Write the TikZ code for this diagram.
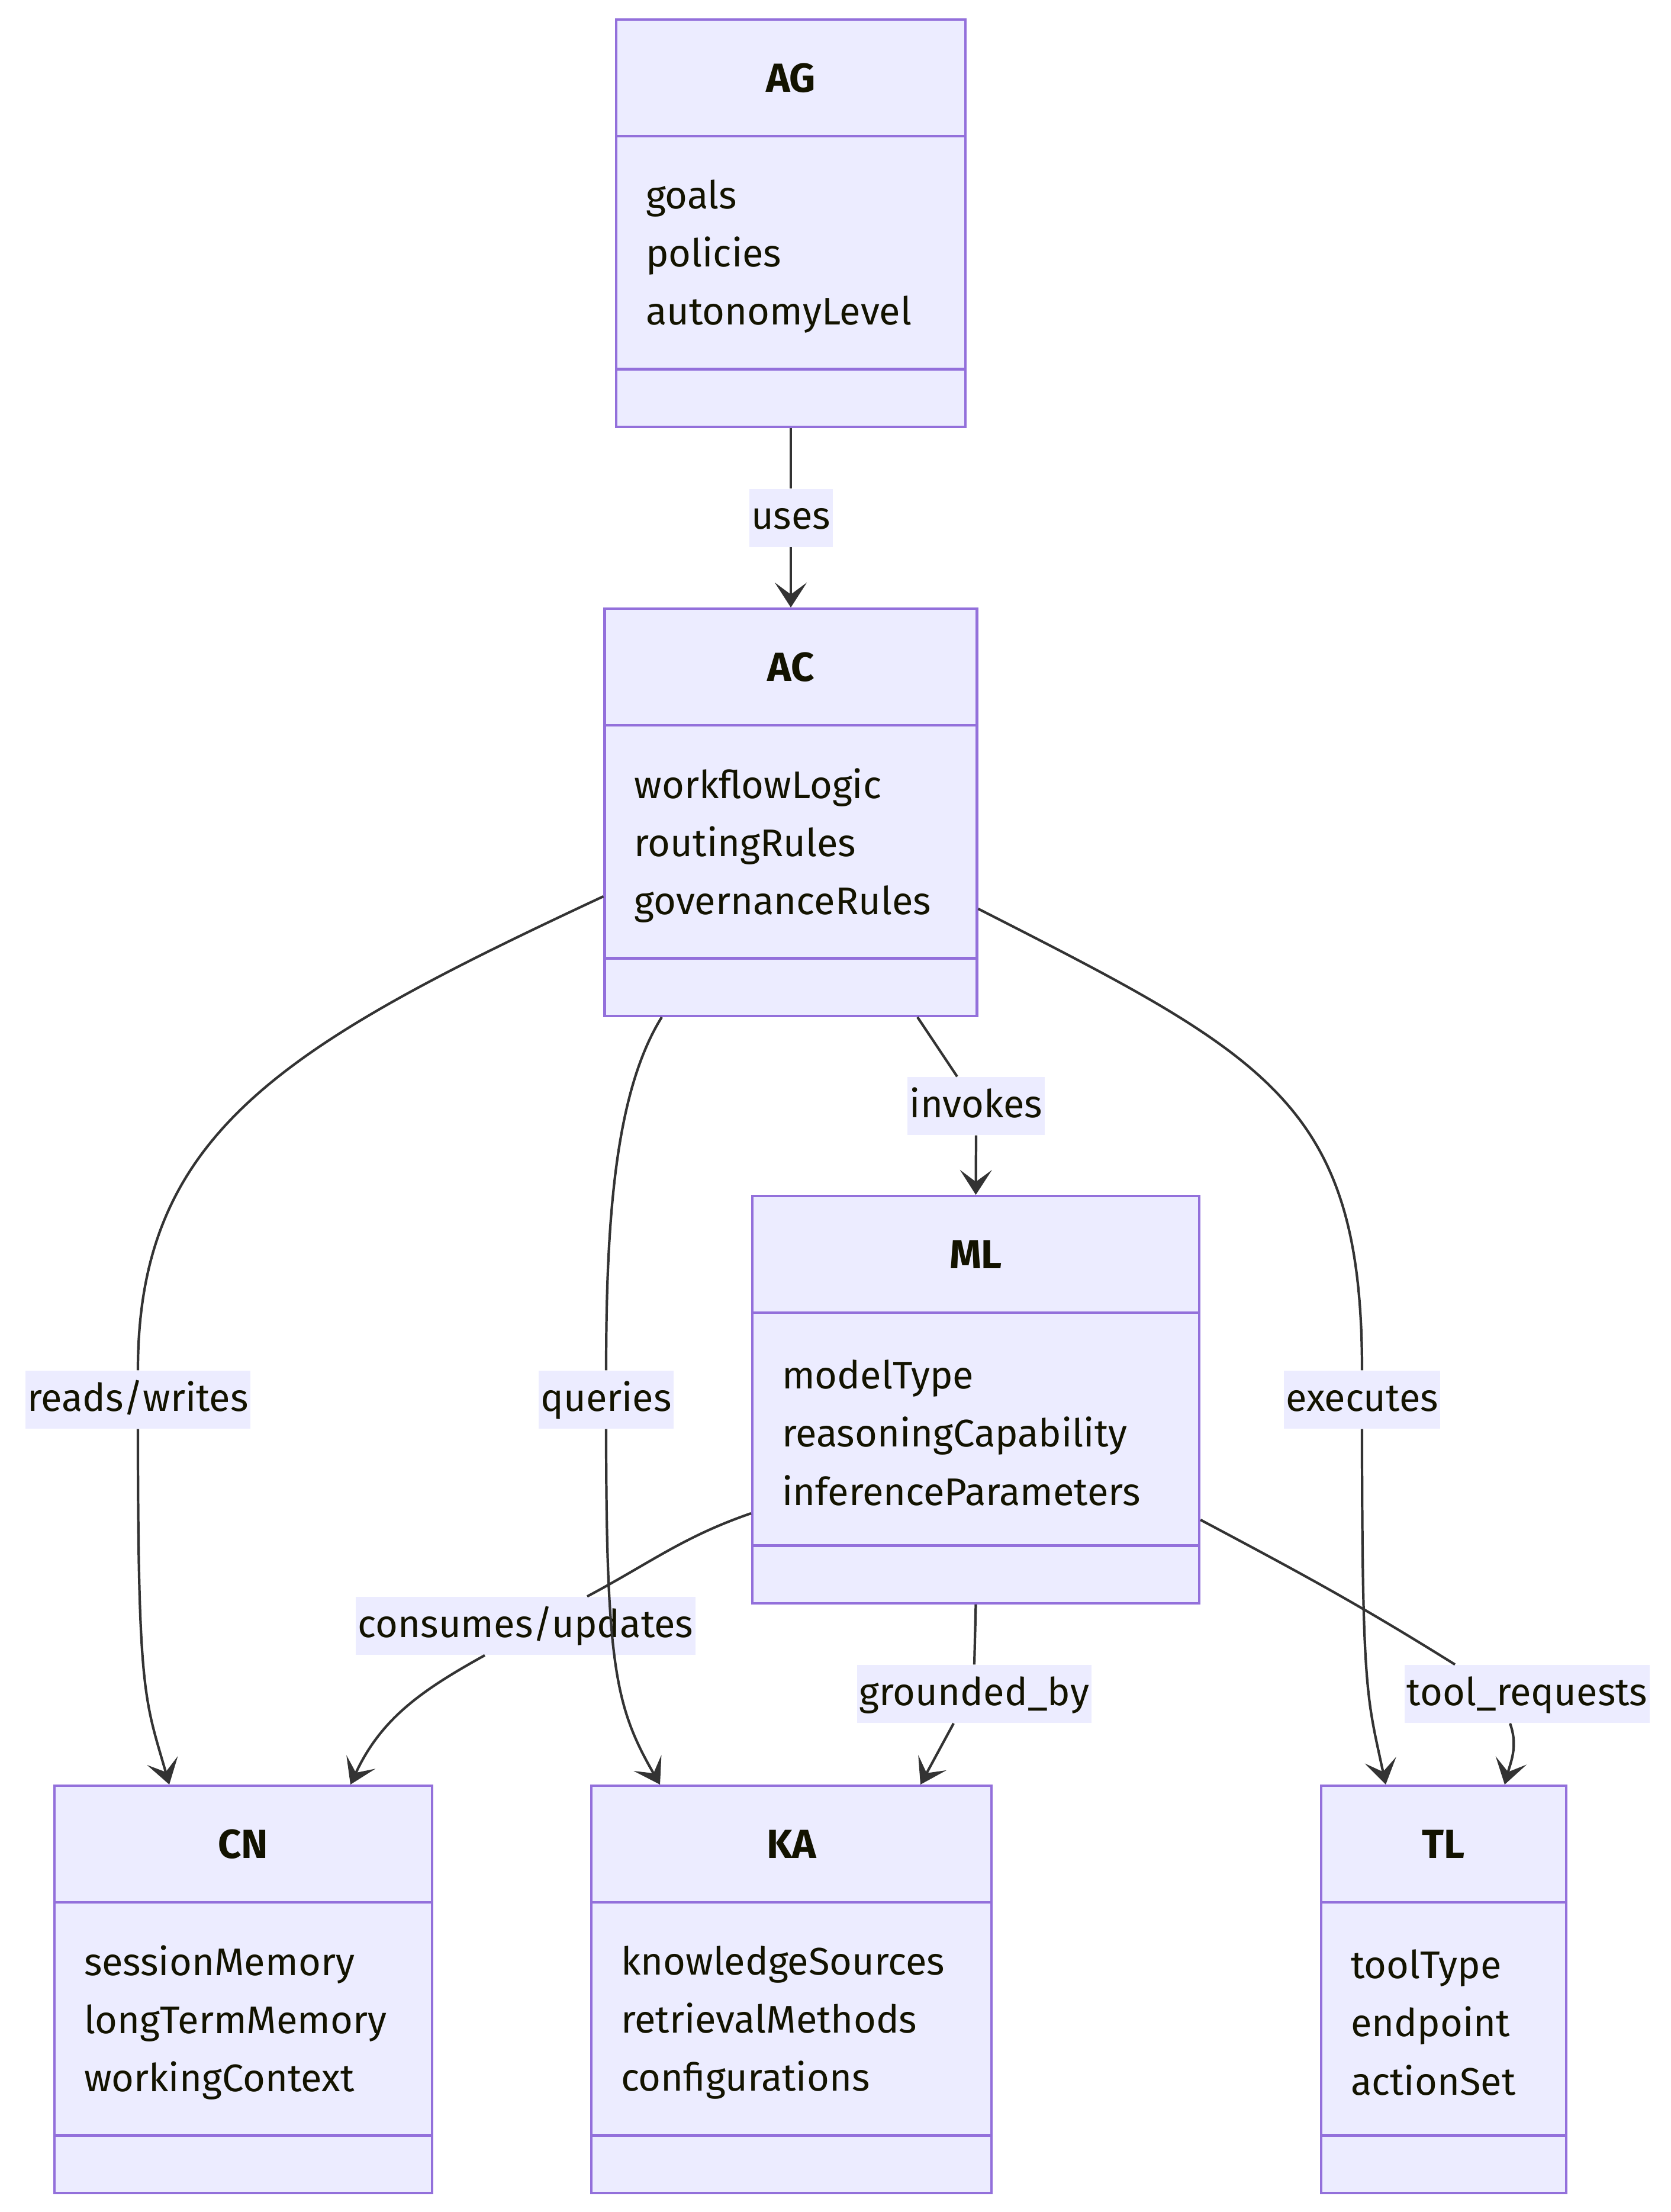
\documentclass[tikz,border=0pt]{standalone}
\usepackage{fontspec}
\usetikzlibrary{shapes.multipart,arrows.meta}

\newfontfamily\umlfamily{Fira Sans}
\newcommand{\umlfont}{\umlfamily\fontsize{18.5}{27.9}\selectfont}
\definecolor{boxfill}{HTML}{ECECFF}
\definecolor{boxline}{HTML}{9370DB}
\definecolor{linkcol}{HTML}{333333}
\definecolor{txtcol}{HTML}{131300}
% three compartments: name, attributes, (empty) operations
\newcommand{\classparts}[3]{%
  \parbox[c][1.93cm][c]{#1}{\centering\fontsize{19.5}{24}\selectfont\bfseries #2}%
  \nodepart{two}\parbox[c][3.89cm][c]{#1}{\vspace*{0.12cm}\raggedright\leftskip=0.5cm #3}%
  \nodepart{three}\parbox[c][0.93cm][c]{#1}{\mbox{}}}

\begin{document}
\begin{tikzpicture}[
  umlclass/.style={rectangle split, rectangle split parts=3, draw=boxline, fill=boxfill,
    line width=1.2pt, inner sep=0pt, anchor=north, text=txtcol, font=\umlfont},
  lbl/.style={fill=boxfill, inner xsep=1pt, inner ysep=0pt, text height=0.68cm,
    text depth=0.30cm, text=txtcol, font=\umlfont},
  link/.style={draw=linkcol, line width=1.2pt},
  linkto/.style={link, -{Stealth[length=0.42cm,width=0.54cm,inset=0.2cm]}},
]
\useasboundingbox (0,0) rectangle (28.22,-37.36);

  \node[umlclass] (AG) at (13.36,-0.31)  {\classparts{5.90cm}{AG}{goals\\policies\\autonomyLevel}};
  \node[umlclass] (AC) at (13.36,-10.26) {\classparts{6.29cm}{AC}{workflowLogic\\routingRules\\governanceRules}};
  \node[umlclass] (ML) at (16.485,-20.18) {\classparts{7.55cm}{ML}{modelType\\reasoningCapability\\inferenceParameters}};
  \node[umlclass] (CN) at (4.11,-30.14)  {\classparts{6.38cm}{CN}{sessionMemory\\longTermMemory\\workingContext}};
  \node[umlclass] (KA) at (13.37,-30.14) {\classparts{6.76cm}{KA}{knowledgeSources\\retrievalMethods\\configurations}};
  \node[umlclass] (TL) at (24.39,-30.14) {\classparts{4.14cm}{TL}{toolType\\endpoint\\actionSet}};

  % edge labels
  \node[lbl] (uses) at (13.36,-8.745) {uses};
  \node[lbl] (rw)   at (2.33,-23.64)  {reads/writes};
  \node[lbl] (qu)   at (10.24,-23.64) {queries};
  \node[lbl] (inv)  at (16.49,-18.68) {invokes};
  \node[lbl] (ex)   at (23.01,-23.64) {executes};
  \node[lbl] (cu)   at (8.88,-27.46)  {consumes/updates};
  \node[lbl] (gb)   at (16.46,-28.61) {grounded\_by};
  \node[lbl] (tr)   at (25.80,-28.61) {tool\_requests};

  \path
    (AG.south) edge[link] (uses.north)
    (uses.south) edge[linkto] (AC.north)
    ([yshift=-1.42cm]AC.west) edge[link, out=205, in=90, out distance=6cm, in distance=4cm] (rw.north)
    (rw.south) edge[linkto, out=270, in=106, out distance=4.5cm, in distance=1.5cm] ([xshift=-1.25cm]CN.north)
    ([xshift=-2.18cm]AC.south) edge[link, out=238, in=90, out distance=1.5cm, in distance=2.5cm] (qu.north)
    (qu.south) edge[linkto, out=270, in=120, out distance=4cm, in distance=1.5cm] ([xshift=-2.22cm]KA.north)
    ([xshift=2.14cm]AC.south) edge[link] ([xshift=-0.32cm]inv.north)
    (inv.south) edge[linkto] (ML.north)
    ([yshift=-1.63cm]AC.east) edge[link, out=333, in=90, out distance=5.5cm, in distance=4.5cm] (ex.north)
    (ex.south) edge[linkto, out=270, in=102, out distance=4.5cm, in distance=1.5cm] ([xshift=-0.98cm]TL.north)
    ([yshift=-1.92cm]ML.west) edge[link, out=199, in=28] ([xshift=1.04cm]cu.north)
    ([xshift=-0.69cm]cu.south) edge[linkto, out=209, in=65] ([xshift=1.81cm]CN.north)
    (ML.south) edge[link] (gb.north)
    ([xshift=-0.35cm]gb.south) edge[linkto] ([xshift=2.18cm]KA.north)
    ([yshift=-2.03cm]ML.east) edge[link, out=332, in=148] ([xshift=-1.22cm]tr.north)
    ([xshift=-0.29cm]tr.south) edge[linkto, out=290, in=75] ([xshift=1.03cm]TL.north)
  ;
\end{tikzpicture}
\end{document}
